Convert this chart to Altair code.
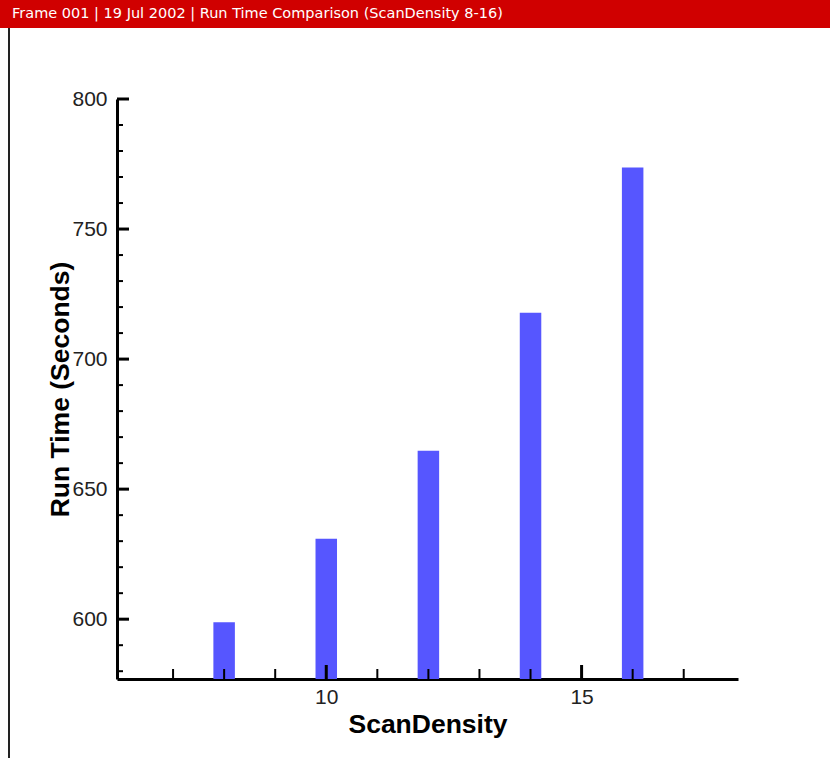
import altair as alt
import pandas as pd

# Run time per scan density
scan_density = [8, 10, 12, 14, 16]
run_time = [598.8, 630.9, 664.8, 717.8, 773.7]

# Axis ranges and tick positions
x_domain = [6, 17.965]
y_domain = [577, 800]
x_major = [10, 15]
x_minor = [7, 8, 9, 11, 12, 13, 14, 16, 17]
y_major = [600, 650, 700, 750, 800]
y_minor = [580, 590, 610, 620, 630, 640, 660, 670, 680, 690,
           710, 720, 730, 740, 760, 770, 780, 790]

header_text = "Frame 001  |  19 Jul 2002  |  Run Time Comparison (ScanDensity 8-16)"

W, H = 621, 580
PAD = {"left": 117, "top": 99, "right": 92, "bottom": 79}
FONT = "Liberation Sans"

xs = alt.Scale(domain=x_domain, nice=False, zero=False)
ys = alt.Scale(domain=y_domain, nice=False, zero=False)

x_axis = alt.Axis(title="ScanDensity", values=x_major, format="d",
                  tickSize=0, domainWidth=3, domainColor="black",
                  labelFont=FONT, labelFontSize=21, labelColor="#222",
                  labelPadding=7, grid=False,
                  titleFont=FONT, titleFontSize=26.5, titleFontWeight="bold",
                  titleColor="black", titlePadding=4)
y_axis = alt.Axis(title="Run Time (Seconds)", values=y_major, format="d",
                  tickSize=0, domainWidth=3, domainColor="black",
                  labelFont=FONT, labelFontSize=21, labelColor="#222",
                  labelPadding=10, grid=False,
                  titleFont=FONT, titleFontSize=26.5, titleFontWeight="bold",
                  titleColor="black", titleX=-57, titleY=H / 2,
                  titleAngle=270, titleAlign="center", titleBaseline="middle")

bars_df = pd.DataFrame({"ScanDensity": scan_density, "RunTime": run_time})

bars = alt.Chart(bars_df).mark_bar(size=21.5, color="#5656FF").encode(
    x=alt.X("ScanDensity:Q", scale=xs, axis=x_axis),
    y=alt.Y("RunTime:Q", scale=ys, axis=y_axis),
    y2=alt.datum(y_domain[0]),
)


def x_ticks(values, length, width):
    df = pd.DataFrame({"ScanDensity": values})
    return alt.Chart(df).mark_rule(color="black", strokeWidth=width).encode(
        x=alt.X("ScanDensity:Q", scale=xs, axis=x_axis),
        y=alt.value(H),
        y2=alt.value(H - length),
    )


def y_ticks(values, length, width):
    df = pd.DataFrame({"RunTime": values})
    return alt.Chart(df).mark_rule(color="black", strokeWidth=width).encode(
        y=alt.Y("RunTime:Q", scale=ys, axis=y_axis),
        x=alt.value(0),
        x2=alt.value(length),
    )


# Frame decoration: red title bar and left border
header_bar = alt.Chart(pd.DataFrame({"t": [header_text]})).mark_rect(
    color="#D00000").encode(
    x=alt.value(-PAD["left"]), x2=alt.value(W + PAD["right"]),
    y=alt.value(-PAD["top"]), y2=alt.value(-PAD["top"] + 28),
)
header_label = alt.Chart(pd.DataFrame({"t": [header_text]})).mark_text(
    color="white", font="DejaVu Sans", fontSize=14.5, align="left",
    baseline="middle").encode(
    text="t:N", x=alt.value(-PAD["left"] + 12), y=alt.value(-PAD["top"] + 14),
)
left_border = alt.Chart(pd.DataFrame({"t": [0]})).mark_rule(
    color="#222", strokeWidth=2).encode(
    x=alt.value(-PAD["left"] + 9),
    y=alt.value(-PAD["top"] + 28), y2=alt.value(H + PAD["bottom"]),
)

chart = alt.layer(
    header_bar, header_label, left_border,
    bars,
    x_ticks(x_minor, 10, 2), x_ticks(x_major, 14, 3),
    y_ticks(y_minor, 6, 2), y_ticks(y_major, 12, 3),
).properties(
    width=W, height=H, padding=PAD, autosize="none", background="white",
).configure_view(stroke=None)

chart.save("out.html", embed_options={"renderer": "svg", "actions": False})
